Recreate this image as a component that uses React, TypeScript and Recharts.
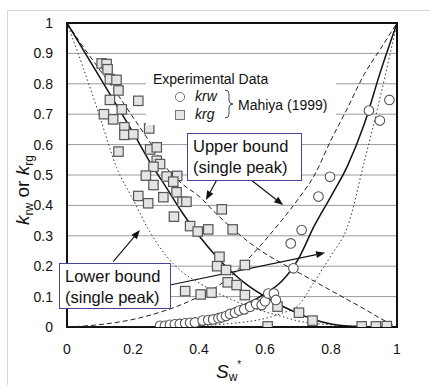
import React from 'react';
import { ComposedChart, Line, Scatter, XAxis, YAxis, CartesianGrid, ReferenceLine, ReferenceArea } from 'recharts';

type Pt = [number, number];

const xTicks = [0, 0.2, 0.4, 0.6, 0.8, 1];
const yTicks = [0, 0.1, 0.2, 0.3, 0.4, 0.5, 0.6, 0.7, 0.8, 0.9, 1];

// experimental data, Mahiya (1999)
const krwPoints: Pt[] = [
  [0.282, 0.004], [0.297, 0.004], [0.312, 0.007], [0.327, 0.009], [0.342, 0.01], [0.358, 0.012],
  [0.373, 0.014], [0.388, 0.015], [0.411, 0.021], [0.428, 0.023], [0.443, 0.025], [0.459, 0.029],
  [0.469, 0.032], [0.482, 0.036], [0.494, 0.043], [0.509, 0.047], [0.522, 0.054], [0.537, 0.058],
  [0.555, 0.067], [0.573, 0.076], [0.59, 0.072], [0.6, 0.085], [0.61, 0.11], [0.627, 0.11],
  [0.633, 0.089], [0.686, 0.193], [0.678, 0.275], [0.711, 0.319], [0.762, 0.429], [0.797, 0.494],
  [0.915, 0.712], [0.948, 0.679], [0.977, 0.747],
];

const krgPoints: Pt[] = [
  [0.105, 0.867], [0.12, 0.865], [0.123, 0.848], [0.13, 0.815], [0.15, 0.813], [0.156, 0.778],
  [0.13, 0.747], [0.216, 0.744], [0.166, 0.716], [0.112, 0.7], [0.14, 0.683], [0.174, 0.657],
  [0.249, 0.653], [0.174, 0.632], [0.201, 0.634], [0.156, 0.577], [0.252, 0.584], [0.272, 0.591],
  [0.272, 0.547], [0.282, 0.536], [0.262, 0.527], [0.239, 0.498], [0.302, 0.495], [0.334, 0.497],
  [0.322, 0.478], [0.262, 0.467], [0.216, 0.431], [0.246, 0.407], [0.292, 0.427], [0.332, 0.443],
  [0.35, 0.412], [0.362, 0.412], [0.324, 0.363], [0.469, 0.387], [0.373, 0.332], [0.396, 0.314],
  [0.428, 0.321], [0.502, 0.321], [0.462, 0.231], [0.455, 0.2], [0.482, 0.1875], [0.539, 0.204],
  [0.358, 0.118], [0.405, 0.107], [0.438, 0.113], [0.487, 0.147], [0.514, 0.138], [0.539, 0.105],
  [0.638, 0.067], [0.703, 0.047], [0.744, 0.021], [0.608, 0.002], [0.893, 0.002], [0.936, 0.002],
  [0.969, 0.003],
];

// model curves
const krwFit: Pt[] = [
  [0.25, 0], [0.3, 0.002], [0.35, 0.007], [0.4, 0.018], [0.45, 0.036], [0.5, 0.058], [0.55, 0.08],
  [0.6, 0.11], [0.65, 0.15], [0.7, 0.222], [0.75, 0.334], [0.8, 0.43], [0.85, 0.53], [0.9, 0.665],
  [0.95, 0.84], [1, 1],
];
const krwUpper: Pt[] = [
  [0, 0], [0.1, 0.008], [0.2, 0.025], [0.3, 0.055], [0.35, 0.075], [0.4, 0.1], [0.45, 0.13],
  [0.5, 0.17], [0.55, 0.225], [0.6, 0.285], [0.65, 0.35], [0.7, 0.42], [0.75, 0.5], [0.8, 0.615],
  [0.85, 0.72], [0.9, 0.83], [0.95, 0.915], [1, 1],
];
const krwLower: Pt[] = [
  [0, 0], [0.3, 0.001], [0.4, 0.004], [0.5, 0.012], [0.55, 0.018], [0.6, 0.028], [0.65, 0.045],
  [0.7, 0.07], [0.75, 0.15], [0.8, 0.235], [0.85, 0.33], [0.9, 0.54], [0.95, 0.76], [1, 1],
];
const krgFit: Pt[] = [
  [0, 1], [0.05, 0.91], [0.1, 0.82], [0.15, 0.73], [0.2, 0.64], [0.25, 0.545], [0.3, 0.46],
  [0.35, 0.375], [0.4, 0.3], [0.45, 0.235], [0.5, 0.18], [0.55, 0.135], [0.6, 0.1], [0.65, 0.07],
  [0.7, 0.045], [0.75, 0.024], [0.8, 0.01], [0.85, 0.003], [0.9, 0.001], [1, 0],
];
const krgUpper: Pt[] = [
  [0, 1], [0.05, 0.92], [0.1, 0.845], [0.15, 0.77], [0.2, 0.69], [0.25, 0.61], [0.3, 0.525],
  [0.35, 0.47], [0.4, 0.43], [0.45, 0.375], [0.5, 0.325], [0.55, 0.28], [0.6, 0.242], [0.65, 0.21],
  [0.7, 0.18], [0.75, 0.15], [0.8, 0.12], [0.85, 0.09], [0.9, 0.06], [0.95, 0.028], [1, 0],
];
const krgLower: Pt[] = [
  [0, 1], [0.05, 0.85], [0.1, 0.69], [0.15, 0.525], [0.2, 0.42], [0.25, 0.315], [0.3, 0.235],
  [0.35, 0.18], [0.4, 0.145], [0.45, 0.115], [0.5, 0.09], [0.55, 0.068], [0.6, 0.05], [0.65, 0.035],
  [0.7, 0.02], [0.8, 0.007], [0.9, 0.002], [1, 0],
];

// annotation arrows: [from, to] in axis units
const arrows: [Pt, Pt][] = [
  [[0.454, 0.484], [0.421, 0.418]],
  [[0.555, 0.486], [0.655, 0.401]],
  [[0.14, 0.215], [0.221, 0.319]],
  [[0.312, 0.138], [0.782, 0.244]],
];

const toXY = (pts: Pt[]) => pts.map(([x, y]) => ({ x, y }));

const font = '"Liberation Sans", Arial, sans-serif';

const Square = (p: any) => (
  <rect x={p.cx - 4.7} y={p.cy - 4.7} width={9.4} height={9.4} fill="#e4e4e4" stroke="#555" strokeWidth={1.2} />
);
const Circle = (p: any) => (
  <circle cx={p.cx} cy={p.cy} r={4.8} fill="#fff" stroke="#555" strokeWidth={1.1} />
);

const Arrow = (p: any) => {
  const { x1, y1, x2, y2 } = p;
  const a = Math.atan2(y2 - y1, x2 - x1);
  const L = 9, W = 3.5;
  const bx = x2 - L * Math.cos(a), by = y2 - L * Math.sin(a);
  const pts = `${x2},${y2} ${bx - W * Math.sin(a)},${by + W * Math.cos(a)} ${bx + W * Math.sin(a)},${by - W * Math.cos(a)}`;
  return (
    <g>
      <line x1={x1} y1={y1} x2={bx} y2={by} stroke="#111" strokeWidth={1.1} />
      <polygon points={pts} fill="#111" />
    </g>
  );
};

const YTitle = () => (
  <text x={29} y={190} transform="rotate(-90 29 190)" textAnchor="middle" fontFamily={font} fill="#111">
    <tspan fontSize={19} fontStyle="italic">k</tspan>
    <tspan fontSize={12} dy={4}>rw</tspan>
    <tspan fontSize={19} dy={-4}> or </tspan>
    <tspan fontSize={19} fontStyle="italic">k</tspan>
    <tspan fontSize={12} dy={4}>rg</tspan>
  </text>
);

const XTitle = () => (
  <text x={216} y={378} fontFamily={font} fill="#111">
    <tspan fontSize={19} fontStyle="italic">S</tspan>
    <tspan fontSize={12} dy={3}>w</tspan>
    <tspan fontSize={10} dy={-13}>*</tspan>
  </text>
);

const boxStyle: React.CSSProperties = {
  position: 'absolute',
  background: '#fff',
  border: '1px solid #44449c',
  fontFamily: font,
  fontSize: 16.5,
  lineHeight: '21px',
  color: '#111',
  padding: '2px 0 0 5px',
  boxSizing: 'border-box',
  whiteSpace: 'nowrap',
};

export default function App() {
  return (
    <div style={{ position: 'absolute', left: 0, top: 0, width: 430, height: 385, background: '#fff' }}>
      <div style={{ position: 'absolute', left: 7, top: 10, width: 423, height: 375, borderLeft: '1px solid #d8d8d8', borderTop: '1px solid #d8d8d8' }} />
      <ComposedChart width={430} height={385} margin={{ top: 23, right: 33, left: 0, bottom: 0 }}>
        <CartesianGrid vertical={false} stroke="#9a9a9a" />
        <XAxis
          type="number" dataKey="x" domain={[0, 1]} ticks={xTicks} height={58}
          axisLine={false} tickLine={false} tickSize={0} tickMargin={17}
          tick={{ fontSize: 14, fill: '#111', fontFamily: font }} allowDataOverflow
        />
        <YAxis
          type="number" dataKey="y" domain={[0, 1]} ticks={yTicks} width={67} interval={0}
          axisLine={false} tickLine={false} tickSize={0} tickMargin={14}
          tick={{ fontSize: 14, fill: '#111', fontFamily: font }} allowDataOverflow
        />
        {arrows.map((s, i) => (
          <ReferenceLine key={i} segment={[{ x: s[0][0], y: s[0][1] }, { x: s[1][0], y: s[1][1] }]} shape={Arrow} ifOverflow="visible" />
        ))}
        <Line data={toXY(krgLower)} dataKey="y" type="monotone" stroke="#333" strokeWidth={1} strokeDasharray="1.5 2.5" dot={false} isAnimationActive={false} />
        <Line data={toXY(krwLower)} dataKey="y" type="monotone" stroke="#333" strokeWidth={1} strokeDasharray="1.5 2.5" dot={false} isAnimationActive={false} />
        <Line data={toXY(krgUpper)} dataKey="y" type="monotone" stroke="#222" strokeWidth={1} strokeDasharray="5 3" dot={false} isAnimationActive={false} />
        <Line data={toXY(krwUpper)} dataKey="y" type="monotone" stroke="#222" strokeWidth={1} strokeDasharray="5 3" dot={false} isAnimationActive={false} />
        <Line data={toXY(krgFit)} dataKey="y" type="monotone" stroke="#111" strokeWidth={1.5} dot={false} isAnimationActive={false} />
        <Line data={toXY(krwFit)} dataKey="y" type="monotone" stroke="#111" strokeWidth={1.5} dot={false} isAnimationActive={false} />
        <Scatter data={toXY(krgPoints)} shape={Square} isAnimationActive={false} />
        <Scatter data={toXY(krwPoints)} shape={Circle} isAnimationActive={false} />
        <ReferenceArea x1={0} x2={1} y1={0} y2={1} fill="none" fillOpacity={0} stroke="#111" strokeWidth={2} />
        <YTitle />
        <XTitle />
      </ComposedChart>

      {/* legend */}
      <div style={{ position: 'absolute', left: 146, top: 68, width: 190, height: 57, background: '#fff', fontFamily: font, fontSize: 14, color: '#111' }}>
        <div style={{ position: 'absolute', left: 7, top: 3 }}>Experimental Data</div>
        <svg style={{ position: 'absolute', left: 0, top: 0 }} width={190} height={57}>
          <circle cx={34} cy={29} r={4.6} fill="#fff" stroke="#777" strokeWidth={1} />
          <rect x={29.5} y={42.5} width={9} height={9} fill="#e4e4e4" stroke="#777" strokeWidth={1} />
          <path d="M79,22 q4,0 4,4 v6 q0,4 4,4 q-4,0 -4,4 v6 q0,4 -4,4" fill="none" stroke="#333" strokeWidth={0.9} />
        </svg>
        <div style={{ position: 'absolute', left: 49, top: 20, fontStyle: 'italic' }}>krw</div>
        <div style={{ position: 'absolute', left: 49, top: 38, fontStyle: 'italic' }}>krg</div>
        <div style={{ position: 'absolute', left: 92, top: 29 }}>Mahiya (1999)</div>
      </div>

      <div style={{ ...boxStyle, left: 187, top: 133, width: 115, height: 48 }}>
        Upper bound<br />(single peak)
      </div>
      <div style={{ ...boxStyle, left: 59, top: 263, width: 112, height: 46 }}>
        Lower bound<br />(single peak)
      </div>
    </div>
  );
}
